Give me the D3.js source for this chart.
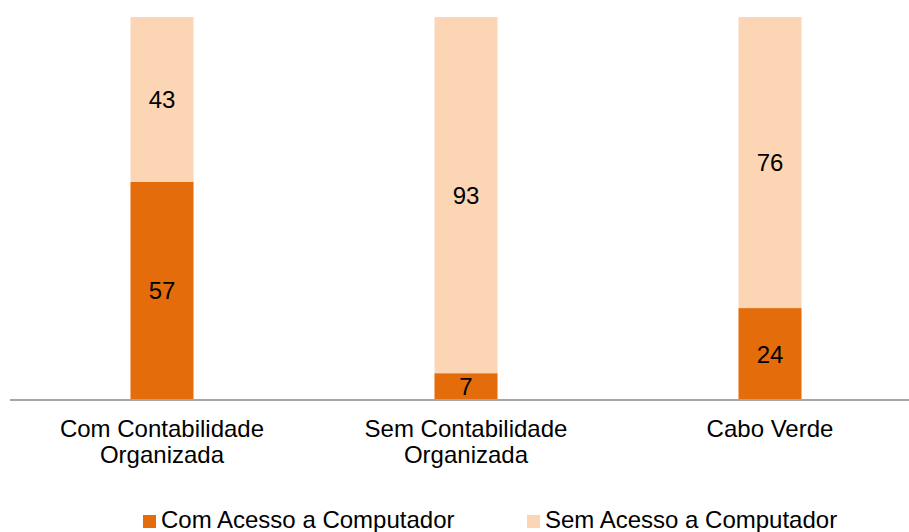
<!DOCTYPE html>
<html>
<head>
<meta charset="utf-8">
<script src="https://cdn.jsdelivr.net/npm/d3@7"></script>
<style>
  html, body { margin: 0; padding: 0; background: #fff; }
  svg { display: block; font-family: "Liberation Sans", Arial, sans-serif; }
</style>
</head>
<body>
<svg id="chart" width="909" height="532"></svg>
<script>
const categories = [["Com Contabilidade", "Organizada"], ["Sem Contabilidade", "Organizada"], ["Cabo Verde"]];
const seriesNames = ["Com Acesso a Computador", "Sem Acesso a Computador"];
const comAcesso = [57, 7, 24];
const semAcesso = [43, 93, 76];
const colors = ["#E46C0A", "#FCD5B5"];

const svg = d3.select("#chart");
const baseY = 400, topY = 17;

const keys = categories.map(c => c.join(" "));
const x = d3.scaleBand().domain(keys).range([10, 922]).padding(0);
const barW = 63;
const y = d3.scaleLinear().domain([0, 100]).range([baseY, topY]);

const rows = keys.map((k, i) => ({ key: k, com: comAcesso[i], sem: semAcesso[i] }));
const stack = d3.stack().keys(["com", "sem"]);
const layers = stack(rows);

const cx = k => x(k) + x.bandwidth() / 2;

layers.forEach((layer, li) => {
  svg.append("g").selectAll("rect").data(layer).enter().append("rect")
    .attr("x", d => cx(d.data.key) - barW / 2)
    .attr("width", barW)
    .attr("y", d => y(d[1]))
    .attr("height", d => y(d[0]) - y(d[1]))
    .attr("fill", colors[li]);
  svg.append("g").selectAll("text").data(layer).enter().append("text")
    .attr("x", d => cx(d.data.key))
    .attr("y", d => (y(d[0]) + y(d[1])) / 2)
    .attr("dy", "0.36em")
    .attr("text-anchor", "middle")
    .attr("font-size", 24)
    .attr("fill", "#000")
    .text(d => d[1] - d[0]);
});

// axis
const axis = d3.axisBottom(x).tickSize(0).tickFormat("");
const gAxis = svg.append("g").attr("transform", `translate(0,${baseY})`).call(axis);
gAxis.select(".domain").attr("stroke", "#A6A6A6").attr("stroke-width", 2).attr("d", "M10,0H909");

// category labels
categories.forEach((lines, i) => {
  const t = svg.append("text")
    .attr("x", cx(keys[i]))
    .attr("y", baseY + 37)
    .attr("text-anchor", "middle")
    .attr("font-size", 24)
    .attr("fill", "#000");
  lines.forEach((ln, j) => {
    t.append("tspan").attr("x", cx(keys[i])).attr("dy", j === 0 ? 0 : 26).text(ln);
  });
});

// legend
const legendX = [143, 527];
seriesNames.forEach((name, i) => {
  const g = svg.append("g").attr("transform", `translate(${legendX[i]},515)`);
  g.append("rect").attr("width", 13).attr("height", 13).attr("fill", colors[i]);
  g.append("text").attr("x", 18).attr("y", 13).attr("font-size", 24).attr("fill", "#000").text(name);
});
</script>
</body>
</html>
